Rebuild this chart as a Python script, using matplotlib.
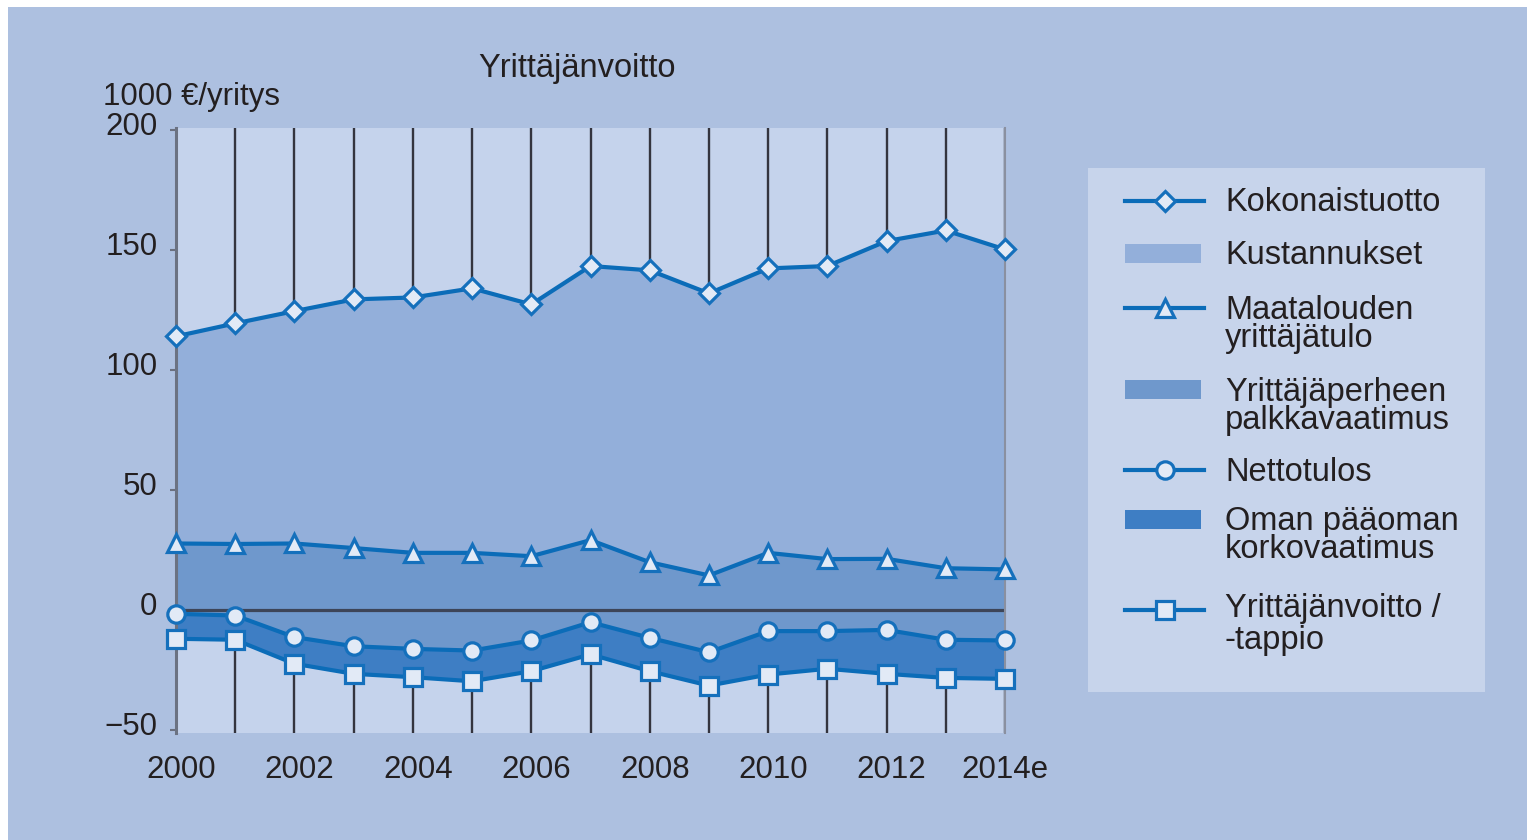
import matplotlib
matplotlib.use("Agg")
import matplotlib.pyplot as plt
import matplotlib.transforms as mtransforms
from matplotlib.patches import Rectangle
from matplotlib.lines import Line2D

plt.rcParams['font.family'] = ['Liberation Sans', 'DejaVu Sans']

# ---------------- data ----------------
years = list(range(2000, 2015))
kokonaistuotto = [114.0, 119.4, 124.5, 129.4, 130.2, 134.0, 127.3, 143.3, 141.5,
                  131.9, 142.3, 143.3, 153.7, 158.1, 150.2]
yrittajatulo = [27.7, 27.5, 27.7, 25.8, 23.8, 23.8, 22.4, 29.1, 19.9,
                14.4, 23.8, 21.2, 21.3, 17.4, 16.9]
nettotulos = [-1.6, -2.3, -11.3, -15.1, -16.2, -16.9, -12.7, -5.1, -11.6,
              -17.6, -8.8, -8.8, -8.3, -12.4, -12.7]
yrittajanvoitto = [-12.0, -12.4, -22.4, -26.6, -28.0, -29.7, -25.5, -18.5, -25.5,
                   -31.5, -26.9, -24.5, -26.6, -28.3, -28.7]
xtick_pos = [2000, 2002, 2004, 2006, 2008, 2010, 2012, 2014]
xtick_labels = ['2000', '2002', '2004', '2006', '2008', '2010', '2012', '2014e']
ytick_pos = [-50, 0, 50, 100, 150, 200]
ytick_labels = ['\u221250', '0', '50', '100', '150', '200']
title = 'Yrittäjänvoitto'
unit_label = '1000 €/yritys'
legend_entries = [
    ('line', 'D', ['Kokonaistuotto']),
    ('patch', '#93afda', ['Kustannukset']),
    ('line', '^', ['Maatalouden', 'yrittäjätulo']),
    ('patch', '#6f98cc', ['Yrittäjäperheen', 'palkkavaatimus']),
    ('line', 'o', ['Nettotulos']),
    ('patch', '#3e7ec4', ['Oman pääoman', 'korkovaatimus']),
    ('line', 's', ['Yrittäjänvoitto /', '-tappio']),
]

# ---------------- styles ----------------
W, H = 1527, 840
OUTER = '#adc0e0'
INNER = '#c5d3ec'
LEGBG = '#c7d4eb'
LINEC = '#0b6cb8'
FACE = '#e2eaf6'
MEC = '#1570bc'
C_KUST = '#93afda'
C_PALK = '#6f98cc'
C_KORK = '#3e7ec4'
TXT = '#231f20'
FS_TICK = 22.5
FS_TITLE = 23.5
FS_LEG = 23.5

fig = plt.figure(figsize=(W / 100, H / 100), dpi=100, facecolor='white')

# background / overlay axes in pixel coordinates
ov = fig.add_axes([0, 0, 1, 1])
ov.set_xlim(0, W)
ov.set_ylim(H, 0)
ov.axis('off')
ov.set_zorder(-1)
ov.add_patch(Rectangle((8, 7), W - 8, H - 7, facecolor=OUTER, edgecolor='none'))

# main axes
x0, x1, y0, y1 = 176, 1005, 128, 733
ax = fig.add_axes([x0 / W, (H - y1) / H, (x1 - x0) / W, (y1 - y0) / H])
ax.set_facecolor(INNER)
ax.set_xlim(2000, 2014)
ax.set_ylim(-51.25, 200.8)

ax.fill_between(years, kokonaistuotto, yrittajatulo, color=C_KUST, lw=0, zorder=1.5)
ax.fill_between(years, yrittajatulo, nettotulos, color=C_PALK, lw=0, zorder=1.5)
ax.fill_between(years, nettotulos, yrittajanvoitto, color=C_KORK, lw=0, zorder=1.5)

ax.axhline(0, color='#3d4558', lw=2.3, zorder=2.2)

msize = {'D': 10.5, '^': 13.5, 'o': 12.5, 's': 13}
mk = dict(color=LINEC, lw=3, markerfacecolor=FACE, markeredgecolor=MEC,
          markeredgewidth=2.3, zorder=3, clip_on=False)
ax.plot(years, kokonaistuotto, marker='D', markersize=msize['D'], **mk)
ax.plot(years, yrittajatulo, marker='^', markersize=msize['^'], **mk)
ax.plot(years, nettotulos, marker='o', markersize=msize['o'], **mk)
ax.plot(years, yrittajanvoitto, marker='s', markersize=msize['s'], **mk)

# grid (vertical lines at every year)
ax.set_xticks(years, minor=True)
ax.set_xticks(xtick_pos)
ax.set_xticklabels(xtick_labels, fontsize=FS_TICK, color=TXT)
ax.set_yticks(ytick_pos)
ax.set_yticklabels(ytick_labels, fontsize=FS_TICK, color=TXT)
ax.set_axisbelow(True)
ax.grid(axis='x', which='both', color='#34343e', lw=1.7)
ax.grid(axis='y', visible=False)

ax.tick_params(axis='x', which='both', length=0, pad=16)
ax.tick_params(axis='y', length=4.5, width=1.5, color='#6a7080', pad=9, direction='out')

for s in ['top', 'bottom']:
    ax.spines[s].set_visible(False)
ax.spines['left'].set_color('#6b7282')
ax.spines['left'].set_linewidth(2.2)
ax.spines['right'].set_color('#8a90a0')
ax.spines['right'].set_linewidth(1.5)

# small offsets on tick labels to match reference placement
up = mtransforms.ScaledTranslation(0, 6.5 / 100, fig.dpi_scale_trans)
for lab in ax.get_yticklabels():
    lab.set_transform(lab.get_transform() + up)
xlabs = ax.get_xticklabels()
for i, lab in enumerate(xlabs):
    if i < len(xlabs) - 1:
        lab.set_transform(lab.get_transform() +
                          mtransforms.ScaledTranslation(5 / 100, 0, fig.dpi_scale_trans))

# title & unit
ov.text(577, 77, title, fontsize=FS_TITLE, color=TXT, ha='center', va='baseline')
ov.text(103, 105, unit_label, fontsize=FS_TICK, color=TXT, ha='left', va='baseline')

# legend (drawn manually)
ov.add_patch(Rectangle((1088, 168), 1485 - 1088, 692 - 168, facecolor=LEGBG, edgecolor='none'))
handle_y = [201, 253, 308, 389, 470, 519, 610]
text_y = [[199], [252], [307, 335], [389, 417], [469], [518, 546], [605, 637]]
for (kind, spec, lines), hy, tys in zip(legend_entries, handle_y, text_y):
    if kind == 'line':
        ov.add_line(Line2D([1125, 1204], [hy, hy], color=LINEC, lw=3))
        ov.add_line(Line2D([1164.5], [hy], marker=spec, markersize=msize[spec],
                           markerfacecolor=FACE, markeredgecolor=MEC,
                           markeredgewidth=2.3, lw=0))
    else:
        ov.add_patch(Rectangle((1125, hy - 9.5), 76, 19, facecolor=spec, edgecolor='none'))
    for t, ty in zip(lines, tys):
        ov.text(1225, ty, t, fontsize=FS_LEG, color=TXT, ha='left', va='center_baseline')

fig.savefig('out.png', dpi=100, facecolor='white')
